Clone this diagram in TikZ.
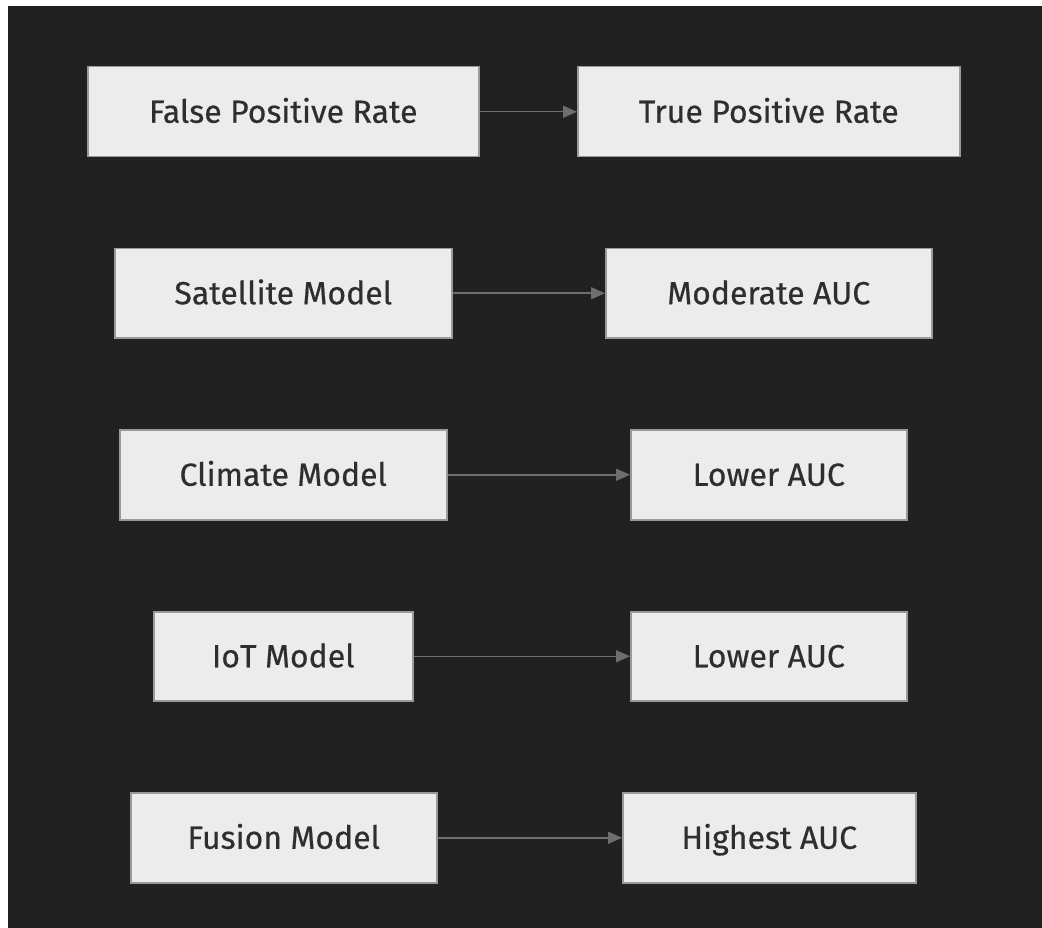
\documentclass[tikz,border=0pt]{standalone}
\usepackage{fontspec}
\setmainfont{Fira Sans}[FakeBold=0.5]
\usetikzlibrary{arrows.meta}
\definecolor{bgdark}{HTML}{212121}
\definecolor{boxfill}{HTML}{ECECEC}
\definecolor{boxline}{HTML}{9A9A9A}
\definecolor{boxtext}{HTML}{2E2E2E}
\definecolor{edge}{HTML}{6E6E6E}
\tikzset{
  x=1pt, y=-1pt,
  box/.style={draw=boxline, line width=1.5pt, fill=boxfill, text=boxtext,
    font=\fontsize{32}{37}\selectfont, inner sep=0pt, text height=22pt,
    text depth=0pt, anchor=north west},
  link/.style={draw=edge, line width=1.5pt, -{Triangle[length=14pt,width=12pt]}}
}
\newcommand{\boxat}[6]{% name, x0, y0, x1, y1, text
  \node[box, minimum width=#4-#2, minimum height=#5-#3] (#1) at (#2,#3) {#6};}
\begin{document}
\begin{tikzpicture}
\useasboundingbox (0,0) rectangle (1042,928);
\fill[white] (0,0) rectangle (1042,928);
\fill[bgdark] (8,6) rectangle (1042,928);
\boxat{fpr}{87}{66}{478}{156}{False Positive Rate}
\boxat{tpr}{577}{66}{959}{156}{True Positive Rate}
\boxat{sat}{114}{248}{451}{337}{Satellite Model}
\boxat{mod}{605}{248}{931}{337}{Moderate AUC}
\boxat{cli}{119}{429}{446}{519}{Climate Model}
\boxat{low1}{630}{429}{906}{519}{Lower AUC}
\boxat{iot}{153}{611}{412}{700}{IoT Model}
\boxat{low2}{630}{611}{906}{700}{Lower AUC}
\boxat{fus}{130}{792}{436}{882}{Fusion Model}
\boxat{hig}{622}{792}{915}{882}{Highest AUC}
\draw[link] (fpr) -- (tpr);
\draw[link] (sat) -- (mod);
\draw[link] (cli) -- (low1);
\draw[link] (iot) -- (low2);
\draw[link] (fus) -- (hig);
\end{tikzpicture}
\end{document}
